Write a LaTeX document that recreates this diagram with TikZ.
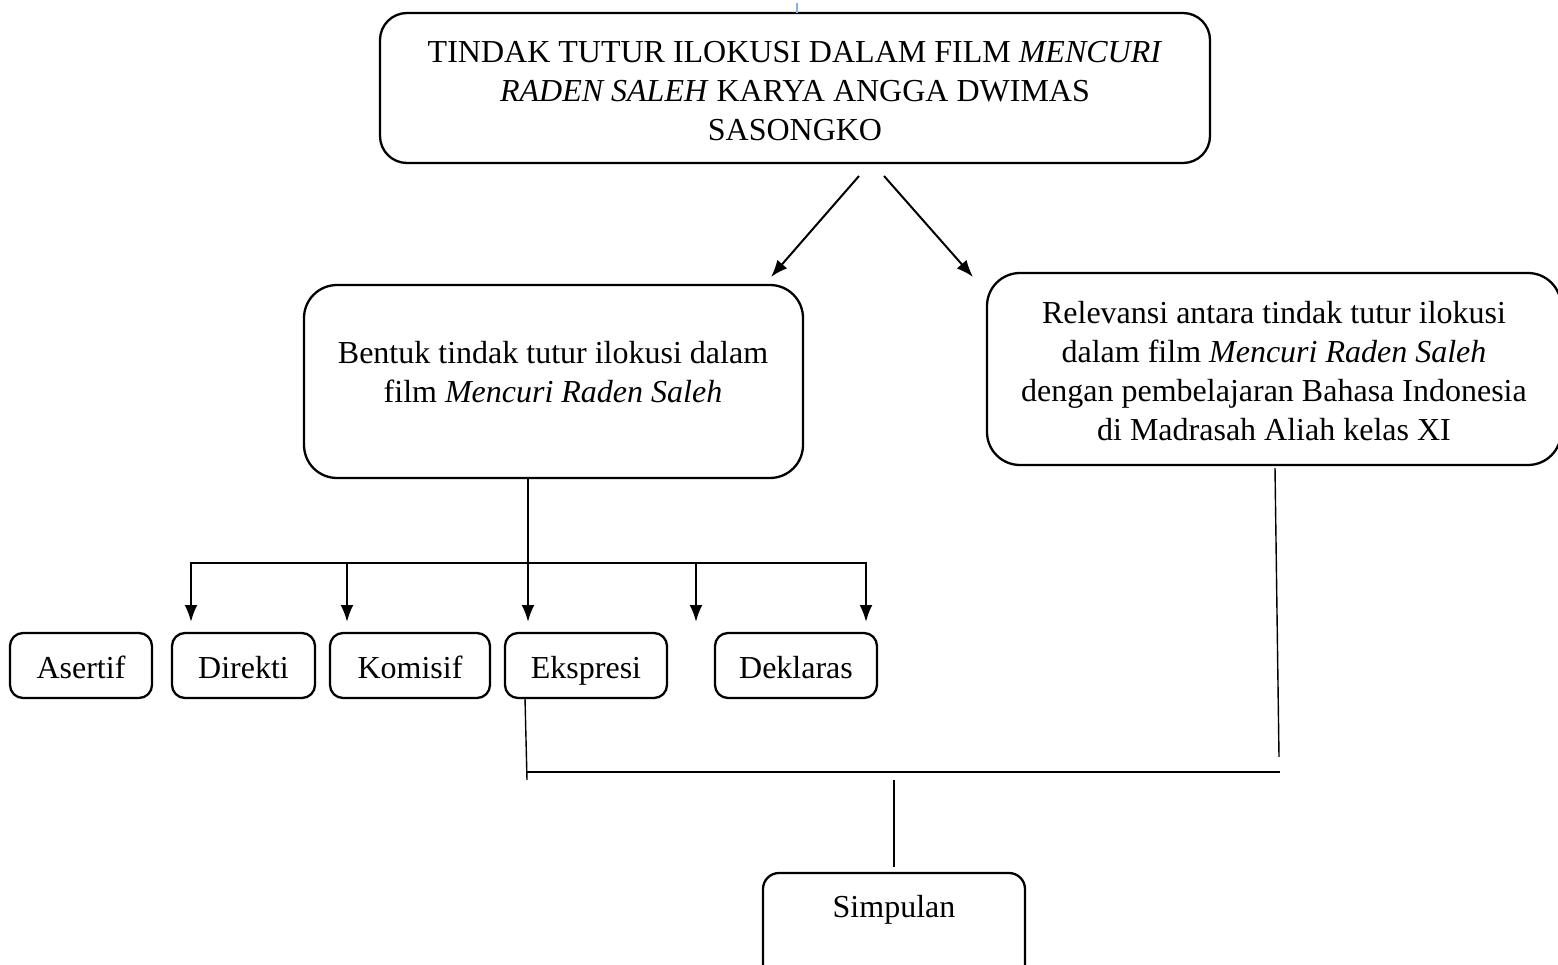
\documentclass[tikz,border=0pt]{standalone}
\usepackage{fontspec}
\setmainfont{Liberation Serif}
\usetikzlibrary{arrows.meta}
\definecolor{kursor}{RGB}{140,175,225}

\begin{document}
\begin{tikzpicture}[x=1pt,y=-1pt,inner sep=0pt,outer sep=0pt,line width=2.2pt,
>={Latex[length=17pt,width=13pt]},
kotakbesar/.style={draw,rectangle,rounded corners=33pt,line width=2.3pt},
kotakkecil/.style={draw,rectangle,rounded corners=13pt,line width=2.3pt,minimum height=65pt,text height=25pt,text depth=0pt,font=\fontsize{32}{39}\selectfont},
teks/.style={align=center,font=\fontsize{32}{39}\selectfont},
garis/.style={line width=1.4pt},
panah/.style={->,line width=2.3pt}]

\clip (0,0) rectangle (1558,965);

\draw (795,88) node[kotakbesar,teks,rounded corners=27pt,minimum width=830pt,minimum height=150pt] (judul) {\rule{0pt}{28pt}TINDAK TUTUR ILOKUSI DALAM FILM \textit{MENCURI}\\\textit{RADEN SALEH} KARYA ANGGA DWIMAS\\SASONGKO};
\draw (553.5,381.5) node[kotakbesar,minimum width=499pt,minimum height=193pt] (bentuk) {};
\draw (553,372) node[teks] (bentukteks) {Bentuk tindak tutur ilokusi dalam\\film \textit{Mencuri Raden Saleh}};
\draw (1274,369) node[kotakbesar,teks,minimum width=574pt,minimum height=192pt] (relevansi) {\rule{0pt}{26pt}Relevansi antara tindak tutur ilokusi\\dalam film \textit{Mencuri Raden Saleh}\\dengan pembelajaran Bahasa Indonesia\\di Madrasah Aliah kelas XI};

\draw (81,665.5) node[kotakkecil,minimum width=142pt] (asertif) {Asertif};
\draw (243.5,665.5) node[kotakkecil,minimum width=143pt] (direkti) {Direkti};
\draw (410,665.5) node[kotakkecil,minimum width=160pt] (komisif) {Komisif};
\draw (586,665.5) node[kotakkecil,minimum width=162pt] (ekspresi) {Ekspresi};
\draw (796,665.5) node[kotakkecil,minimum width=162pt] (deklaras) {Deklaras};

\draw (894,936.5) node[kotakbesar,rounded corners=16pt,minimum width=262pt,minimum height=127pt] (simpulan) {};
\draw (894,910) node[teks] (simpulanteks) {Simpulan};

% panah dari judul
\draw[kursor,line width=1.2pt] (judul.north) ++(2,-10) -- ++(0,10);
\draw[panah,line width=2pt] ([shift={(64,13)}]judul.south) -- ([shift={(-32,-8)}]bentuk.north east);
\draw[panah,line width=2pt] ([shift={(89,13)}]judul.south) -- ([shift={(-14,4)}]relevansi.north west);

% cabang bentuk
\coordinate (cabang) at (528,563);
\coordinate (kiri) at (190,563);
\coordinate (kanan) at (867,563);
\draw[garis] (bentuk.south -| cabang) -- (cabang);
\draw[line width=2pt] (kiri) -- (kanan);
\foreach \n/\x in {1/191,2/347,3/528,4/696,5/866}
  \coordinate (ujung\n) at (\x,622);
\foreach \n in {1,...,5}
  \draw[panah] (ujung\n |- kiri) -- (ujung\n);

% garis ke simpulan
\coordinate (ujungE) at (527,780);
\coordinate (ujungR) at (1279,757);
\coordinate (garisR) at (1280,772);
\draw[garis] ([xshift=20pt]ekspresi.south west) -- (ujungE);
\draw[garis] ([shift={(1,3)}]relevansi.south) -- (ujungR);
\draw[garis] (ujungE |- garisR) -- (garisR);
\draw[garis,shorten <=8pt,shorten >=6pt] (simpulan.north |- garisR) -- (simpulan.north);
\end{tikzpicture}
\end{document}
